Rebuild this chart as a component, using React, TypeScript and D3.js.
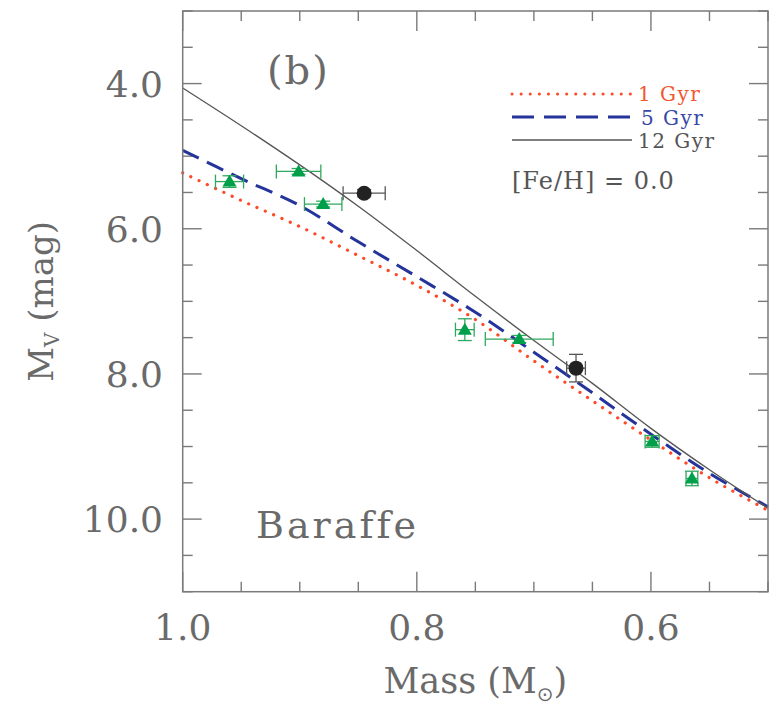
import React from "react";
import * as d3 from "d3";

// model isochrones (Baraffe), mass in Msun -> M_V
const massGrid = [1.0, 0.95, 0.9, 0.85, 0.8, 0.75, 0.7, 0.65, 0.6, 0.55, 0.5];
const mv1Gyr = [5.23, 5.61, 5.97, 6.37, 6.78, 7.25, 7.82, 8.37, 8.91, 9.43, 9.88];
const mv5Gyr = [4.92, 5.31, 5.68, 6.18, 6.66, 7.15, 7.7, 8.26, 8.83, 9.37, 9.83];
const mv12Gyr = [4.06, 4.58, 5.12, 5.69, 6.3, 6.93, 7.54, 8.13, 8.75, 9.32, 9.85];

// observed stars
const triMass = [0.96, 0.901, 0.88, 0.759, 0.7125, 0.599, 0.565];
const triMv = [5.35, 5.21, 5.66, 7.39, 7.52, 8.93, 9.44];
const triMassErr = [0.012, 0.019, 0.016, 0.008, 0.029, 0.006, 0.005];
const triMvErr = [0.08, 0.04, 0.04, 0.15, 0.05, 0.08, 0.1];

const dotMass = [0.845, 0.664];
const dotMv = [5.51, 7.92];
const dotMassErr = [0.018, 0.008];
const dotMvErr = [0.05, 0.19];

const xTicksMajor = [1.0, 0.8, 0.6];
const xTicksMinor = d3.range(0, 11).map((i) => 1.0 - i * 0.05);
const yTicksMajor = [4, 6, 8, 10];
const yTicksMinor = d3.range(0, 17).map((i) => 3 + i * 0.5);

const W = 773;
const H = 707;
const left = 182.7;
const right = 768;
const top = 11;
const bottom = 591.7;

const FONT = "'DejaVu Serif', serif";
const AXIS = "#7a7a7a";
const TXT = "#6a6a6a";

export default function App() {
  const x = d3.scaleLinear().domain([1.0, 0.5]).range([left, right]);
  const y = d3.scaleLinear().domain([3, 11]).range([top, bottom]);

  const line = d3
    .line<number>()
    .x((_, i) => x(massGrid[i]))
    .y((d) => y(d))
    .curve(d3.curveCatmullRom);

  const cap = 7;
  const errBars = (
    m: number,
    v: number,
    me: number,
    ve: number,
    color: string,
    key: string
  ) => {
    const cx = x(m);
    const cy = y(v);
    const x0 = x(m + me);
    const x1 = x(m - me);
    const y0 = y(v - ve);
    const y1 = y(v + ve);
    return (
      <g key={key} stroke={color} strokeWidth={1.3} fill="none">
        <line x1={x0} x2={x1} y1={cy} y2={cy} />
        <line x1={x0} x2={x0} y1={cy - cap} y2={cy + cap} />
        <line x1={x1} x2={x1} y1={cy - cap} y2={cy + cap} />
        <line x1={cx} x2={cx} y1={y0} y2={y1} />
        <line x1={cx - cap} x2={cx + cap} y1={y0} y2={y0} />
        <line x1={cx - cap} x2={cx + cap} y1={y1} y2={y1} />
      </g>
    );
  };

  const tri = (cx: number, cy: number) =>
    `M${cx},${cy - 7} L${cx + 7},${cy + 5} L${cx - 7},${cy + 5} Z`;

  return (
    <svg
      width={W}
      height={H}
      style={{ position: "absolute", left: 0, top: 0, background: "#fff" }}
    >
      {/* minor / major ticks, all four sides */}
      <g stroke={AXIS} strokeWidth={1.4}>
        {xTicksMinor.map((t) => {
          const len = xTicksMajor.some((m) => Math.abs(m - t) < 1e-6) ? 20 : 10;
          return (
            <g key={"xt" + t}>
              <line x1={x(t)} x2={x(t)} y1={bottom} y2={bottom - len} />
              <line x1={x(t)} x2={x(t)} y1={top} y2={top + len} />
            </g>
          );
        })}
        {yTicksMinor.map((t) => {
          const len = yTicksMajor.includes(t) ? 19 : 10;
          return (
            <g key={"yt" + t}>
              <line x1={left} x2={left + len} y1={y(t)} y2={y(t)} />
              <line x1={right} x2={right - len} y1={y(t)} y2={y(t)} />
            </g>
          );
        })}
      </g>

      {/* model curves */}
      <path
        d={line(mv1Gyr) || ""}
        fill="none"
        stroke="#ff4a2a"
        strokeWidth={3.2}
        strokeDasharray="0.1,9"
        strokeLinecap="round"
      />
      <path
        d={line(mv5Gyr) || ""}
        fill="none"
        stroke="#24349a"
        strokeWidth={3}
        strokeDasharray="18,9"
      />
      <path d={line(mv12Gyr) || ""} fill="none" stroke="#555" strokeWidth={1.3} />

      {/* data */}
      {triMass.map((m, i) =>
        errBars(m, triMv[i], triMassErr[i], triMvErr[i], "#2fa85e", "te" + i)
      )}
      {triMass.map((m, i) => (
        <path key={"t" + i} d={tri(x(m), y(triMv[i]))} fill="#00a04a" />
      ))}
      {dotMass.map((m, i) =>
        errBars(m, dotMv[i], dotMassErr[i], dotMvErr[i], "#555", "de" + i)
      )}
      {dotMass.map((m, i) => (
        <circle key={"d" + i} cx={x(m)} cy={y(dotMv[i])} r={7.5} fill="#222" />
      ))}

      {/* frame */}
      <rect
        x={left}
        y={top}
        width={right - left}
        height={bottom - top}
        fill="none"
        stroke={AXIS}
        strokeWidth={1.5}
      />

      {/* tick labels */}
      <g fontFamily={FONT} fontSize={36} fill={TXT}>
        {yTicksMajor.map((t) => (
          <text key={"yl" + t} x={163} y={y(t) + 13} textAnchor="end">
            {t.toFixed(1)}
          </text>
        ))}
        {xTicksMajor.map((t) => (
          <text key={"xl" + t} x={x(t)} y={640} textAnchor="middle">
            {t.toFixed(1)}
          </text>
        ))}
      </g>

      {/* axis titles */}
      <text
        x={x(0.75)}
        y={693}
        textAnchor="middle"
        fontFamily={FONT}
        fontSize={35}
        fill={TXT}
      >
        Mass (M
        <tspan fontSize={20} dy={8} fontFamily="'DejaVu Sans', sans-serif">
          ⊙
        </tspan>
        <tspan dy={-8}>)</tspan>
      </text>
      <text
        transform={`translate(53,${(top + bottom) / 2}) rotate(-90)`}
        textAnchor="middle"
        fontFamily={FONT}
        fontSize={34}
        fill={TXT}
      >
        M
        <tspan fontSize={20} dy={6}>
          V
        </tspan>
        <tspan dy={-6}> (mag)</tspan>
      </text>

      {/* panel labels */}
      <text x={267} y={84} fontFamily={FONT} fontSize={40} fill={TXT} letterSpacing={2}>
        (b)
      </text>
      <text x={256} y={538} fontFamily={FONT} fontSize={38} fill={TXT} letterSpacing={3}>
        Baraffe
      </text>

      {/* legend */}
      <g fontFamily={FONT} fontSize={20} letterSpacing={1.5}>
        <line
          x1={512}
          x2={632}
          y1={94}
          y2={94}
          stroke="#ff4a2a"
          strokeWidth={3}
          strokeDasharray="0.1,9"
          strokeLinecap="round"
        />
        <text x={638} y={101} fill="#f0582e">
          1 Gyr
        </text>
        <line
          x1={512}
          x2={632}
          y1={117}
          y2={117}
          stroke="#24349a"
          strokeWidth={3.2}
          strokeDasharray="22,10"
        />
        <text x={641} y={124.5} fill="#3848a8">
          5 Gyr
        </text>
        <line x1={512} x2={632} y1={140} y2={140} stroke="#555" strokeWidth={1.3} />
        <text x={638} y={148} fill="#555">
          12 Gyr
        </text>
        <text x={512} y={189} fill="#555" fontSize={24} letterSpacing={1}>
          [Fe/H] = 0.0
        </text>
      </g>
    </svg>
  );
}
